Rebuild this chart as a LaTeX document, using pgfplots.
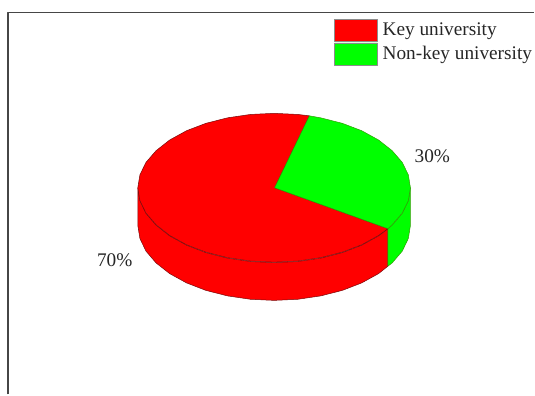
\documentclass[border=0pt]{standalone}
\usepackage{pgfplots}
\pgfplotsset{compat=1.18}
\usepackage{fontspec}
\setmainfont{Liberation Serif}
\definecolor{keyred}{RGB}{255,0,0}
\definecolor{nonkey}{RGB}{0,255,0}
\definecolor{edgedark}{RGB}{120,10,10}
\definecolor{frame}{RGB}{70,70,70}
\begin{document}
\begin{tikzpicture}
\begin{axis}[
  at={(0,0)}, anchor=south west,
  scale only axis, width=535pt, height=395pt,
  xmin=0, xmax=535, ymin=0, ymax=395, y dir=reverse,
  hide axis, clip=false,
  every axis plot/.append style={line join=round, no markers},
  wall/.style={fill=keyred, draw=edgedark, line width=0.5pt},
  top/.style={draw=edgedark, line width=0.5pt},
]
% Invisible diagonal that fixes the extent of the drawing area
\addplot[draw=none] coordinates {(0,0) (535,395)};

% Chart frame: left and top rules only
\addplot[draw=frame, line width=1.5pt] coordinates {(8,395) (8,12.5) (535,12.5)};

% Side wall of the 70% slice
\addplot[wall] coordinates {
 (138,188) (140.1,201) (146.2,213.7) (156.3,225.5) (169.9,236.2) (186.8,245.5)
 (206.2,253) (227.8,258.5) (250.8,261.9) (274.5,263) (298.2,261.9) (321.2,258.5)
 (342.8,253) (362.2,245.5) (379.1,236.2) (388.5,229)
 (388.5,266.5) (379.1,274) (362.2,283.3) (342.8,290.8) (321.2,296.3) (298.2,299.7)
 (274.5,300.8) (250.8,299.7) (227.8,296.3) (206.2,290.8) (186.8,283.3) (169.9,274)
 (156.3,263.3) (146.2,251.5) (140.1,238.8) (138,225.8) (138,188)};

% Side wall of the 30% slice
\addplot[draw=edgedark!40!nonkey, fill=nonkey, line width=0.5pt] coordinates {
 (388.5,229) (392.7,225.5) (402.8,213.7) (408.9,201) (411,188)
 (411,225.8) (408.9,238.8) (402.8,251.5) (392.7,263.3) (388.5,266.5) (388.5,229)};

% Top face, 70% slice
\addplot[top, fill=keyred] coordinates {
 (275,188) (309.8,116) (298.2,114.6) (274.5,113.5) (250.8,114.6) (227.8,118)
 (206.2,123.5) (186.8,130.9) (169.9,140.2) (156.3,150.9) (146.2,162.6) (140.1,175.1)
 (138,188) (140.1,200.9) (146.2,213.4) (156.3,225.1) (169.9,235.8) (186.8,245.1)
 (206.2,252.5) (227.8,258) (250.8,261.4) (274.5,262.5) (298.2,261.4) (321.2,258)
 (342.8,252.5) (362.2,245.1) (379.1,235.8) (388.5,229) (275,188)};

% Top face, 30% slice
\addplot[draw=edgedark!40!nonkey, fill=nonkey, line width=0.5pt] coordinates {
 (275,188) (309.8,116) (321.2,118) (342.8,123.5) (362.2,130.9) (379.1,140.2)
 (392.7,150.9) (402.8,162.6) (408.9,175.1) (411,188) (408.9,200.9) (402.8,213.4)
 (392.7,225.1) (388.5,229) (275,188)};

% Legend swatches
\addplot[fill=keyred, draw=black!45, line width=0.4pt] coordinates {(335,19.5) (378,19.5) (378,41) (335,41) (335,19.5)};
\addplot[fill=nonkey, draw=black!45, line width=0.4pt] coordinates {(335,43) (378,43) (378,65) (335,65) (335,43)};

\begin{scope}[every node/.style={font=\fontsize{19.3}{22}\selectfont, text=black!85, inner sep=0pt}]
\node[anchor=base west] at (axis cs:383,36) {Key university};
\node[anchor=base west] at (axis cs:383,60) {Non-key university};
\node[anchor=base west] at (axis cs:415,163) {30\%};
\node[anchor=base west] at (axis cs:97,266.5) {70\%};
\end{scope}
\end{axis}
\end{tikzpicture}
\end{document}
